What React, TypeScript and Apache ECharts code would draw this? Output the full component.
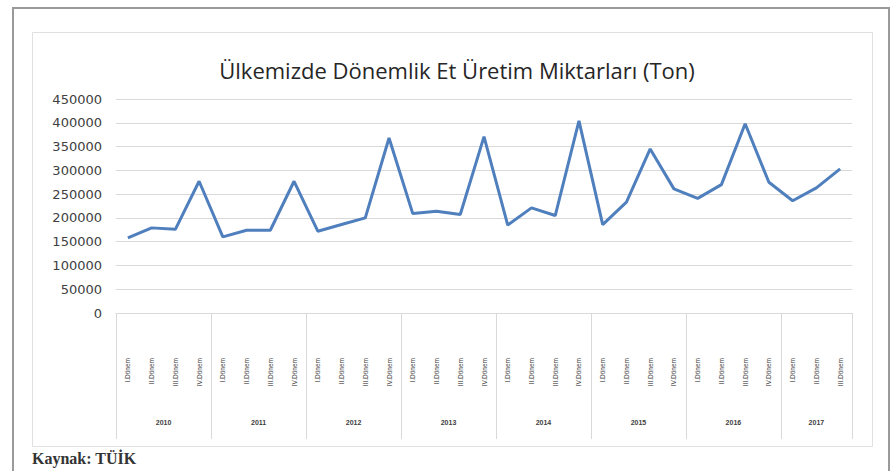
import React, { useEffect, useRef } from 'react';
import * as echarts from 'echarts';

const years = ['2010', '2011', '2012', '2013', '2014', '2015', '2016', '2017'];
const quartersPerYear = [4, 4, 4, 4, 4, 4, 4, 3];
const quarterNames = ['I.Dönem', 'II.Dönem', 'III.Dönem', 'IV.Dönem'];
const production = [
  158000, 179000, 176000, 277000,
  160000, 174000, 174000, 277000,
  172000, 186000, 200000, 368000,
  209000, 214000, 207000, 371000,
  185000, 221000, 205000, 404000,
  186000, 233000, 345000, 261000,
  241000, 270000, 398000, 275000,
  236000, 263000, 303000,
];
const yMin = 0;
const yMax = 450000;
const yStep = 50000;
const titleText = 'Ülkemizde Dönemlik Et Üretim Miktarları (Ton)';
const sourceText = 'Kaynak: TÜİK';

export default function App() {
  const ref = useRef<HTMLDivElement>(null);
  useEffect(() => {
    if (!ref.current) return;
    const chart = echarts.init(ref.current, undefined, { renderer: 'svg' });

    const categories: string[] = [];
    const yearStarts: number[] = [];
    const yearLabelAt: Record<number, { year: string; full: boolean }> = {};
    years.forEach((y, yi) => {
      yearStarts.push(categories.length);
      const n = quartersPerYear[yi];
      yearLabelAt[categories.length + 1] = { year: y, full: n === 4 };
      for (let q = 0; q < n; q++) categories.push(y + ' ' + quarterNames[q]);
    });

    chart.setOption({
      animation: false,
      backgroundColor: '#ffffff',
      title: {
        text: titleText,
        left: 452,
        top: 54,
        textAlign: 'center',
        textStyle: { fontFamily: 'Open Sans', fontSize: 22, fontWeight: 'normal', color: '#262626' },
      },
      graphic: [
        { type: 'rect', shape: { x: 13, y: 8, width: 876, height: 475 }, style: { fill: 'none', stroke: '#9a9a9a', lineWidth: 2 }, silent: true },
        { type: 'rect', shape: { x: 32.5, y: 32.5, width: 840, height: 414 }, style: { fill: 'none', stroke: '#e0e0e0', lineWidth: 1 }, silent: true },
        { type: 'text', left: 32, top: 450, style: { text: sourceText, fontFamily: 'Liberation Serif', fontSize: 16, fontWeight: 'bold', fill: '#333333' }, silent: true },
      ],
      grid: { left: 116, right: 39, top: 99, bottom: 158 },
      xAxis: [
        {
          type: 'category',
          data: categories,
          boundaryGap: true,
          position: 'bottom',
          axisLine: { show: true, lineStyle: { color: '#d9d9d9', width: 1 } },
          axisTick: {
            show: true,
            interval: (i: number) => yearStarts.includes(i),
            length: 126,
            lineStyle: { color: '#d9d9d9', width: 1 },
          },
          axisLabel: {
            interval: 0,
            rotate: 90,
            margin: 45,
            fontSize: 6.5,
            color: '#404040',
            fontFamily: 'Liberation Sans',
            formatter: (v: string) => v.split(' ')[1],
          },
          splitLine: { show: false },
        },
        {
          type: 'category',
          data: categories,
          boundaryGap: true,
          position: 'bottom',
          offset: 100,
          axisLine: { show: false },
          axisTick: { show: false },
          axisLabel: {
            interval: 0,
            margin: 6,
            fontSize: 7,
            color: '#404040',
            fontFamily: 'Liberation Sans',
            formatter: (_v: string, i: number) => {
              const l = yearLabelAt[i];
              if (!l) return '';
              return l.full ? '{a|' + l.year + '}' : '{b|' + l.year + '}';
            },
            rich: {
              a: { padding: [0, 0, 0, 24], fontSize: 7, color: '#404040', fontWeight: 'bold' },
              b: { fontSize: 7, color: '#404040', fontWeight: 'bold' },
            },
          },
        },
      ],
      yAxis: {
        type: 'value',
        min: yMin,
        max: yMax,
        interval: yStep,
        axisLine: { show: false },
        axisTick: { show: false },
        axisLabel: {
          margin: 14,
          fontSize: 13,
          color: '#404040',
          fontFamily: 'DejaVu Sans',
          formatter: (v: number) => String(v),
        },
        splitLine: { lineStyle: { color: '#d9d9d9', width: 1 } },
      },
      series: [
        {
          type: 'line',
          xAxisIndex: 0,
          data: production,
          showSymbol: false,
          symbol: 'none',
          lineStyle: { color: '#4f7fbd', width: 3 },
          itemStyle: { color: '#4f7fbd' },
        },
      ],
    });
    return () => chart.dispose();
  }, []);
  return (
    <div
      ref={ref}
      style={{ position: 'fixed', left: 0, top: 0, width: 891, height: 471 }}
    />
  );
}
